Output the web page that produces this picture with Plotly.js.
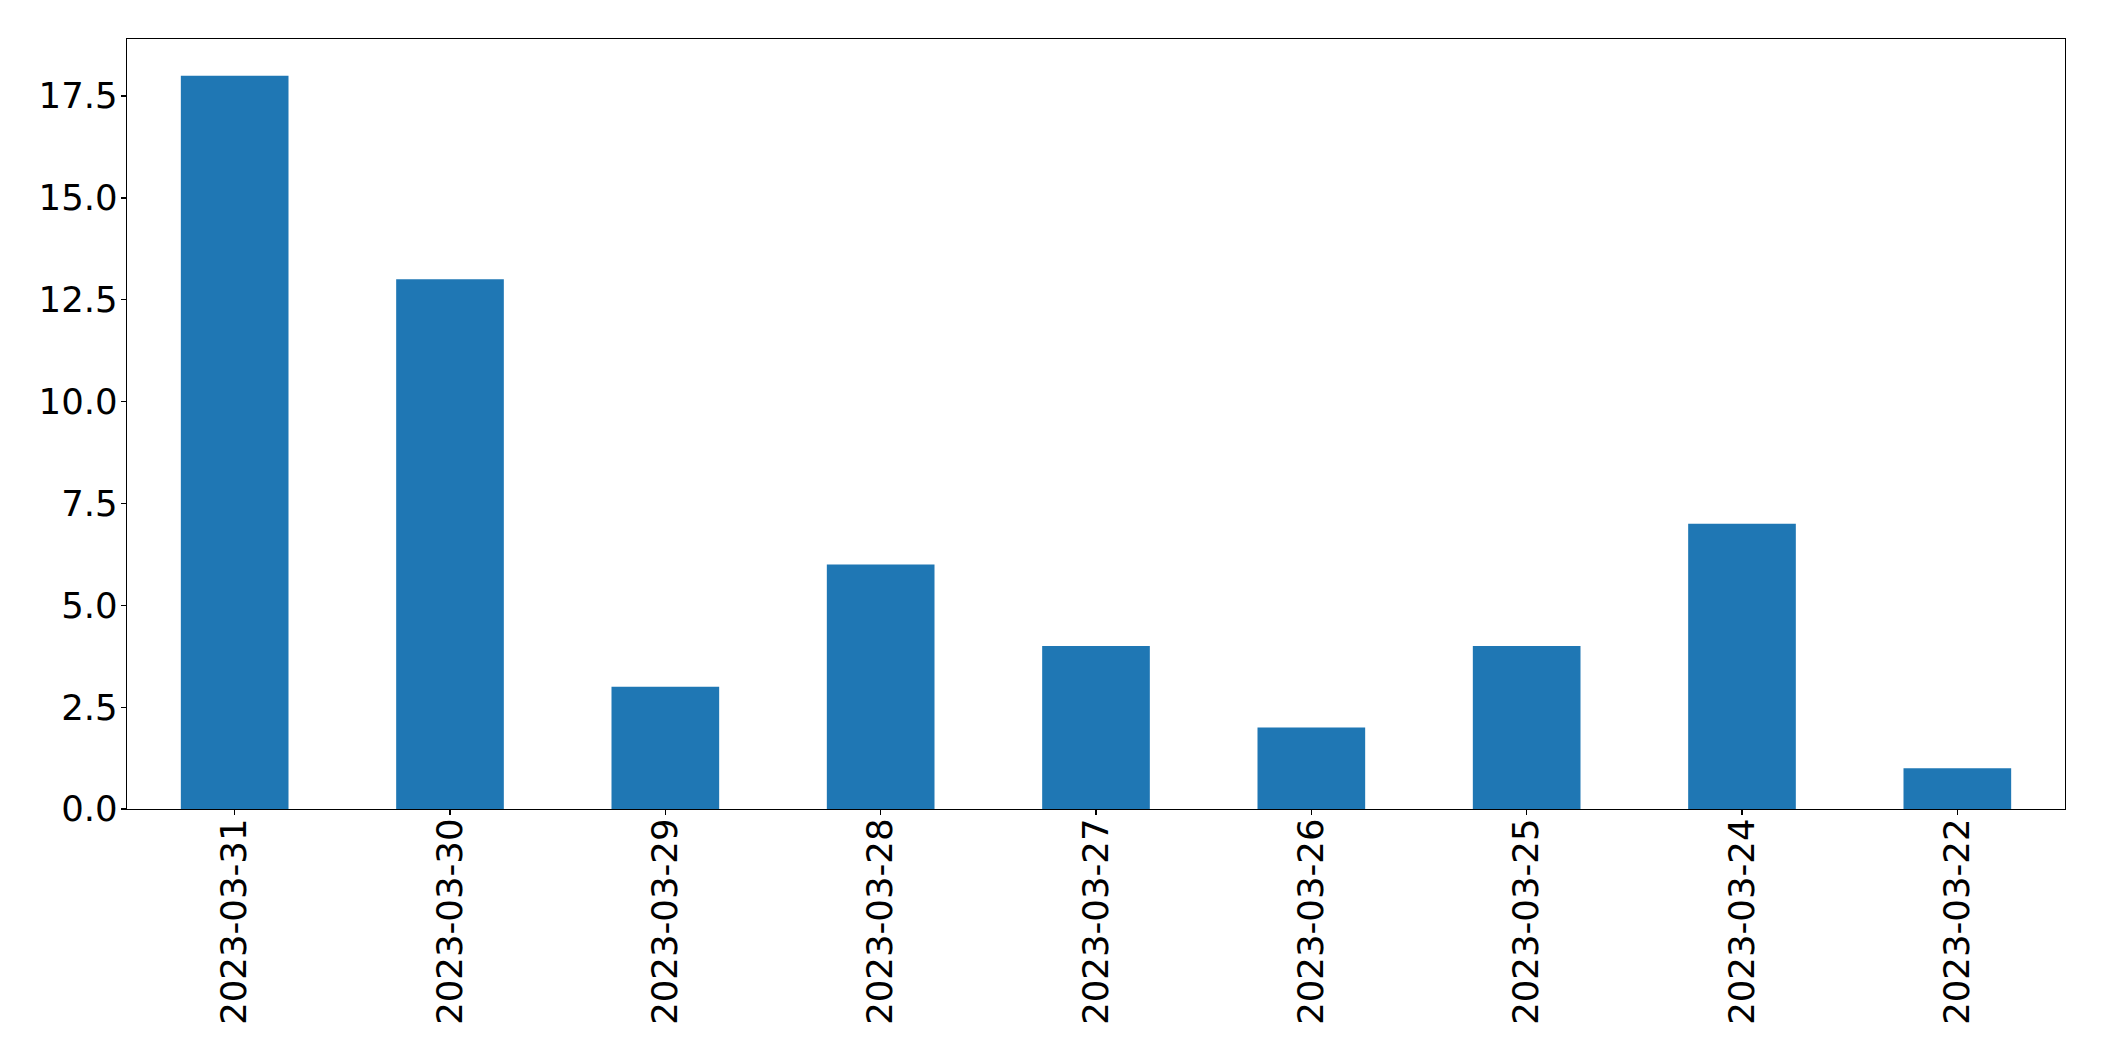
<!DOCTYPE html>
<html>
<head>
<meta charset="utf-8">
<script src="https://cdn.plot.ly/plotly-3.0.1.min.js"></script>
<style>html,body{margin:0;padding:0;background:#fff;}#chart{width:2104px;height:1061px;}</style>
</head>
<body>
<div id="chart"></div>
<script>
const dates = ["2023-03-31","2023-03-30","2023-03-29","2023-03-28","2023-03-27","2023-03-26","2023-03-25","2023-03-24","2023-03-22"];
const counts = [18, 13, 3, 6, 4, 2, 4, 7, 1];

const font = {family: "DejaVu Sans, sans-serif", size: 35.5, color: "#000"};

Plotly.newPlot("chart", [{
  type: "bar",
  x: dates,
  y: counts,
  marker: {color: "#1f77b4", line: {width: 0}},
  hoverinfo: "skip"
}], {
  width: 2104,
  height: 1061,
  margin: {l: 127.3, r: 38.7, t: 39.3, b: 252, pad: 0},
  paper_bgcolor: "#fff",
  plot_bgcolor: "#fff",
  bargap: 0.5,
  showlegend: false,
  font: font,
  xaxis: {
    type: "category",
    range: [-0.5, 8.5],
    tickangle: -90,
    ticks: "outside",
    ticklen: 5,
    tickwidth: 1.3,
    tickcolor: "#000",
    ticklabelstandoff: -11,
    showline: true,
    linecolor: "#000",
    linewidth: 1.3,
    mirror: true,
    showgrid: false,
    zeroline: false,
    tickfont: font
  },
  yaxis: {
    range: [0, 18.9],
    tickmode: "linear",
    tick0: 0,
    dtick: 2.5,
    tickformat: ".1f",
    ticks: "outside",
    ticklen: 5,
    tickwidth: 1.3,
    tickcolor: "#000",
    ticklabelstandoff: -4,
    showline: true,
    linecolor: "#000",
    linewidth: 1.3,
    mirror: true,
    showgrid: false,
    zeroline: false,
    tickfont: font
  }
}, {staticPlot: true, displayModeBar: false});
</script>
</body>
</html>
